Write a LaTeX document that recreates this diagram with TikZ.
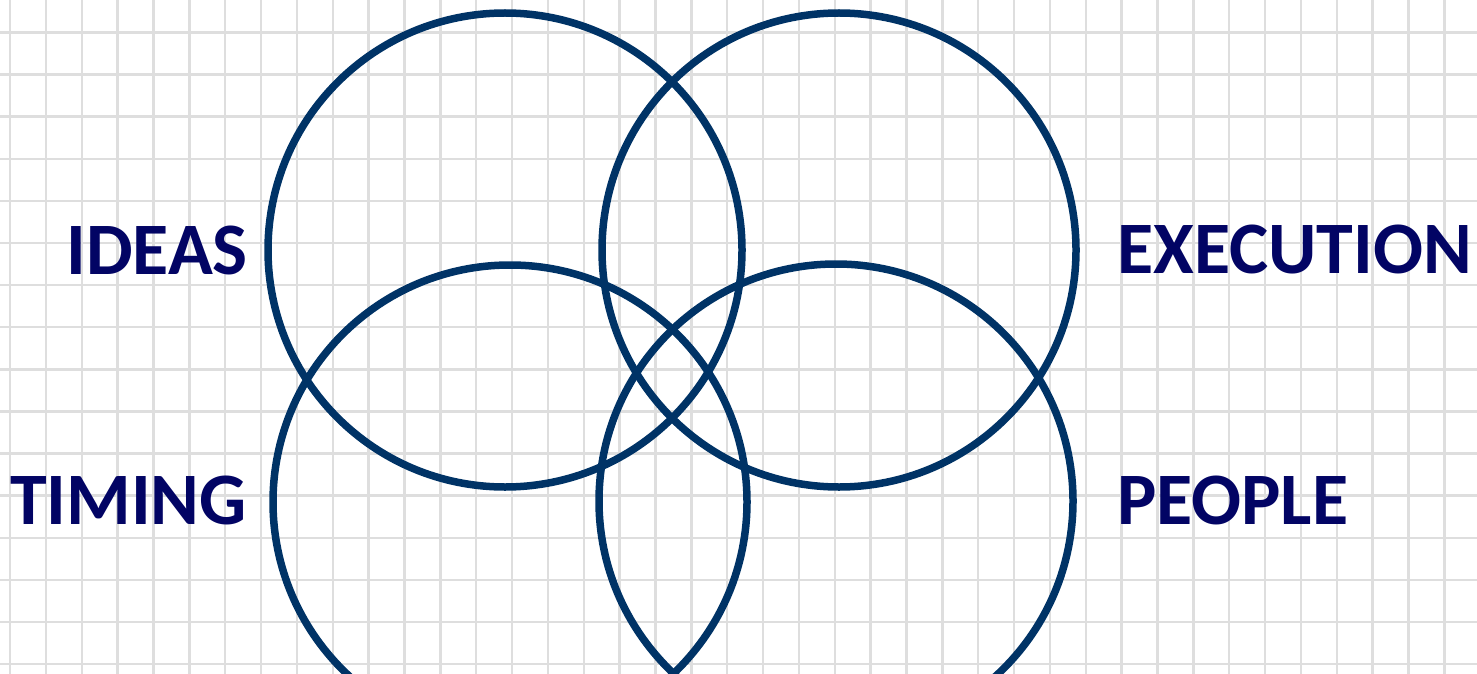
\documentclass[tikz,border=0pt]{standalone}
\usepackage{fontspec}
\setmainfont{Carlito}
\usepackage{xcolor}
\usepackage{tikz}
\usetikzlibrary{positioning}

\definecolor{ringblue}{RGB}{0,51,102}
\definecolor{labelblue}{RGB}{2,4,100}
\definecolor{gridgray}{RGB}{222,222,222}

\begin{document}
\begin{tikzpicture}[
  x=1pt, y=-1pt,
  ring/.style={circle, draw=ringblue, line width=7.5pt, minimum size=474pt, inner sep=0pt},
  word/.style={font=\fontsize{74}{80}\selectfont\bfseries, text=labelblue, inner sep=0pt},
  gridline/.style={draw=gridgray, line width=2.4pt}]
  \path[use as bounding box, clip] (0,0) rectangle (1477,674);
  % squared paper
  \foreach \k in {0,...,40}
    \draw[gridline] ({10+35.86*\k},0) -- ({10+35.86*\k},674);
  \foreach \k in {0,...,15}
    \draw[gridline] (0,{32.5+42.1*\k}) -- (1477,{32.5+42.1*\k});
  % the four rings
  \node[ring] (ideasring)  at (505,250) {};
  \node[ring] (execring)   at (839,250) {};
  \node[ring] (timingring) at (510,502) {};
  \node[ring] (peoplering) at (836,501) {};
  % labels
  \node[word, anchor=east] (ideas)  at (248,250) {IDEAS};
  \node[word, anchor=east] (timing) at (247,500) {TIMING};
  \node[word, anchor=west] (execution) at (1117,250) {EXECUTION};
  \node[word, anchor=west] (people)    at (1117,500) {PEOPLE};
\end{tikzpicture}
\end{document}
